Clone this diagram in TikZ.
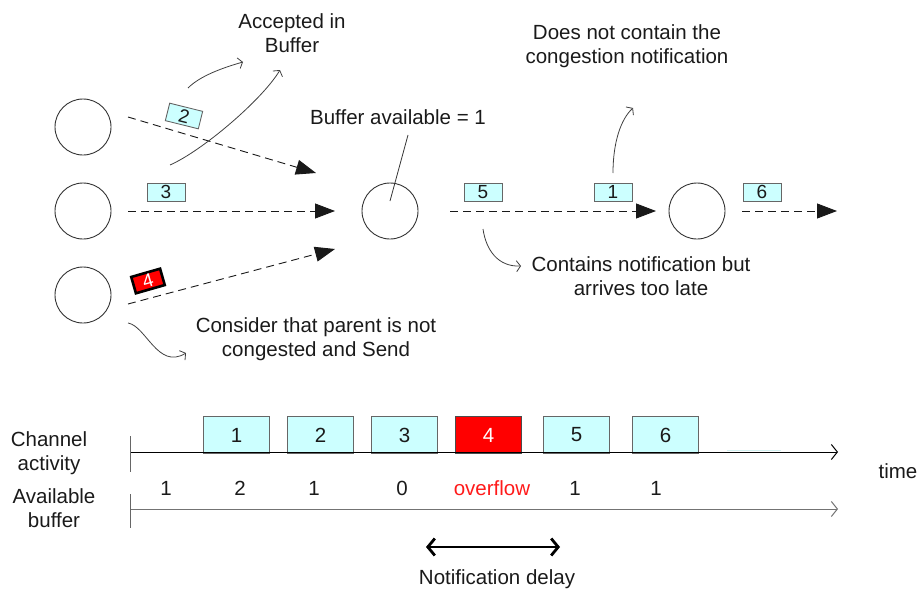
\documentclass[tikz,border=0pt]{standalone}
\usepackage{fontspec}
\setmainfont{Liberation Sans}
\usetikzlibrary{arrows.meta}
\definecolor{pktfill}{HTML}{CCFFFF}
\definecolor{pktline}{HTML}{666666}
\definecolor{txt}{HTML}{1A1A1A}
\definecolor{ovf}{HTML}{FF1A1A}
\begin{document}
\begin{tikzpicture}[x=1pt,y=-1pt,
  every node/.style={font=\fontsize{20.5}{24.5}\selectfont,text=txt},
  host/.style={circle,draw=black!80,line width=0.9pt,minimum size=56pt,inner sep=0pt},
  pkt/.style={draw=pktline,fill=pktfill,line width=0.9pt,minimum width=38pt,minimum height=18pt,inner sep=0pt,font=\fontsize{19}{19}\selectfont},
  badpkt/.style={draw=black,fill=red,line width=2.6pt,minimum width=30pt,minimum height=17pt,inner sep=0pt,text=white,font=\fontsize{19}{19}\selectfont},
  flow/.style={draw=black!90,line width=0.9pt,dash pattern=on 8pt off 5pt,-{Triangle[length=20pt,width=15pt]}},
  note/.style={draw=black!75,line width=0.8pt,-{Straight Barb[length=4pt,width=11pt]}},
  lbl/.style={align=center},
  slot/.style={draw=pktline,fill=pktfill,line width=0.9pt,minimum width=66pt,minimum height=37pt,inner sep=0pt,anchor=north west},
  axis/.style={line width=1pt,-{Straight Barb[length=6pt,width=15pt]}},
]
\useasboundingbox (0,0) rectangle (920,594);

% hosts
\node[host] (h1) at (83,127) {};
\node[host] (h2) at (83,211) {};
\node[host] (h3) at (83,295) {};
\node[host] (hc) at (390,211) {};
\node[host] (hr) at (697,211) {};

% flow endpoints
\coordinate (f1s) at (128,117);
\coordinate (f1e) at (316,173);
\coordinate (f2s) at (128,211);
\coordinate (f2e) at (335,211);
\coordinate (f3s) at (128,304);
\coordinate (f3e) at (335,249);
\coordinate (fcs) at (450,211);
\coordinate (fce) at (656,211);
\coordinate (frs) at (742,211);
\coordinate (fre) at (837,211);
\draw[flow] (f1s) -- (f1e);
\draw[flow] (f2s) -- (f2e);
\draw[flow] (f3s) -- (f3e);
\draw[flow] (fcs) -- (fce);
\draw[flow] (frs) -- (fre);

% packets
\node[pkt,rotate=-14,minimum width=34pt] (p2) at (184,116) {2};
\node[pkt] (p3) at (166,192) {3};
\node[badpkt,rotate=16] (p4) at (148,281) {4};
\node[pkt] (p5) at (483,192) {5};
\node[pkt] (p1) at (613,192) {1};
\node[pkt] (p6) at (762,192) {6};

% labels
\node[lbl] (acc) at (292,33) {Accepted in\\Buffer};
\node (bav) at (398,117) {Buffer available = 1};
\node[lbl] (dnc) at (627,46) {Does not contain the\\congestion notification};
\node[lbl] (cnt) at (641,276) {Contains notification but\\arrives too late};
\node[lbl] (cons) at (316,339) {Consider that parent is not\\congested and Send};

% annotation arrows
\coordinate (a1s) at (188,88);   \coordinate (a1e) at (243,62);
\coordinate (a2s) at (170,165);  \coordinate (a2e) at (280,70);
\coordinate (a3s) at (613,173);  \coordinate (a3e) at (633,108);
\coordinate (a4s) at (483,229);  \coordinate (a4e) at (521,266);
\coordinate (a5s) at (128,323);  \coordinate (a5e) at (186,353);
\coordinate (bls) at (408,135);  \coordinate (ble) at (390,201);
\draw[note] (a1s) .. controls (200,76) and (222,68) .. (a1e);
\draw[note] (a2s) .. controls (202,151) and (262,100) .. (a2e);
\draw[note] (a3s) .. controls (613,142) and (621,119) .. (a3e);
\draw[note] (a4s) .. controls (486,250) and (498,267) .. (a4e);
\draw[note] (a5s) .. controls (146,326) and (158,370) .. (a5e);
\draw[draw=black!80,line width=0.8pt] (bls) -- (ble);

% timeline
\node[lbl] (chl) at (49,453) {Channel\\activity};
\node[lbl] (abl) at (54,508) {Available\\buffer};
\node (tm) at (898,471) {time};

\coordinate (c0) at (130,452);
\coordinate (c1) at (838,452);
\coordinate (ct1) at (130,436);
\coordinate (ct2) at (130,472);
\coordinate (b0) at (130,509);
\coordinate (b1) at (838,509);
\coordinate (bt1) at (130,494);
\coordinate (bt2) at (130,528);

\node[slot] (s1) at (203,416) {1};
\node[slot] (s2) at (287,416) {2};
\node[slot] (s3) at (371,416) {3};
\node[slot,fill=red,draw=black!70,text=white] (s4) at (455,416) {4};
\node[slot] (s5) at (543,416) {5};
\node[slot] (s6) at (632,416) {6};
\coordinate (gh1) at (727,450.5);
\coordinate (gh2) at (781,450.5);
\draw[pktfill!70!teal!40,line width=0.8pt] (gh1) -- (gh2);

\draw[axis,draw=black] (c0) -- (c1);
\draw[line width=1pt,draw=black!60] (ct1) -- (ct2);
\draw[axis,draw=black!55] (b0) -- (b1);
\draw[line width=1pt,draw=black!60] (bt1) -- (bt2);

\node (n1) at (166,488) {1};
\node (n2) at (240,488) {2};
\node (n3) at (314,488) {1};
\node (n4) at (402,488) {0};
\node[text=ovf] (n5) at (492,488) {overflow};
\node (n6) at (575,488) {1};
\node (n7) at (656,488) {1};

\coordinate (d0) at (426,547);
\coordinate (d1) at (560,547);
\draw[line width=2.8pt,{Straight Barb[length=7pt,width=17pt]}-{Straight Barb[length=7pt,width=17pt]}] (d0) -- (d1);
\node (nd) at (497,579) {Notification delay};
\end{tikzpicture}
\end{document}
